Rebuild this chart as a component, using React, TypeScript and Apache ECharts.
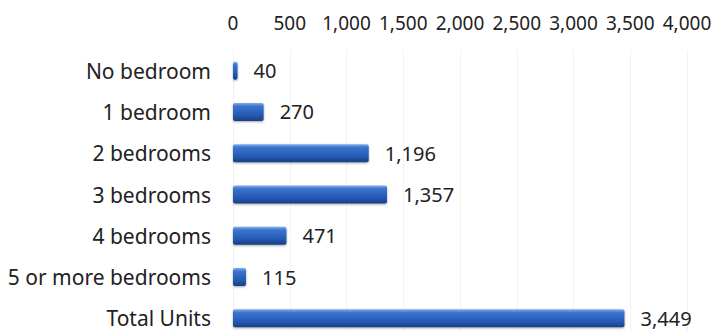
import React, { useEffect, useRef } from "react";
import * as echarts from "echarts";

const categories = [
  "No bedroom",
  "1 bedroom",
  "2 bedrooms",
  "3 bedrooms",
  "4 bedrooms",
  "5 or more bedrooms",
  "Total Units",
];
const values = [40, 270, 1196, 1357, 471, 115, 3449];
const axisMin = 0;
const axisMax = 4000;
const axisStep = 500;

const fmt = (v: number) => v.toLocaleString("en-US");

export default function App() {
  const ref = useRef<HTMLDivElement>(null);
  useEffect(() => {
    const chart = echarts.init(ref.current!, null, { renderer: "svg" });
    chart.setOption({
      animation: false,
      grid: {
        left: 233,
        top: 50,
        width: 454,
        height: 289,
        containLabel: false,
        outerBoundsMode: "none",
      },
      xAxis: {
        type: "value",
        position: "top",
        min: axisMin,
        max: axisMax,
        interval: axisStep,
        axisLine: { show: false },
        axisTick: { show: false },
        splitLine: { show: true, lineStyle: { color: "#f2f2f2", width: 1 } },
        axisLabel: {
          margin: 18,
          color: "#222",
          fontFamily: "Noto Sans",
          fontSize: 19,
          hideOverlap: false,
          formatter: (v: number) => fmt(v),
        },
      },
      yAxis: {
        type: "category",
        data: categories,
        inverse: true,
        axisLine: { show: false },
        axisTick: { show: false },
        axisLabel: {
          margin: 22,
          color: "#222",
          fontFamily: "Noto Sans",
          fontSize: 21,
        },
      },
      series: [
        {
          type: "bar",
          data: values,
          barWidth: 18,
          itemStyle: {
            color: new echarts.graphic.LinearGradient(0, 0, 0, 1, [
              { offset: 0, color: "#7fb0ea" },
              { offset: 0.18, color: "#3a74cf" },
              { offset: 0.7, color: "#2458b0" },
              { offset: 1, color: "#173f85" },
            ]),
            borderRadius: 2,
            shadowColor: "rgba(0,0,0,0.35)",
            shadowBlur: 2,
            shadowOffsetY: 1,
          },
          label: {
            show: true,
            position: "right",
            distance: 16,
            color: "#222",
            fontFamily: "Noto Sans",
            fontSize: 20,
            formatter: (p: any) => fmt(p.value),
          },
        },
      ],
    });
    return () => chart.dispose();
  }, []);
  return (
    <div
      ref={ref}
      style={{ position: "absolute", left: 0, top: 0, width: 717, height: 331, background: "#fff" }}
    />
  );
}
